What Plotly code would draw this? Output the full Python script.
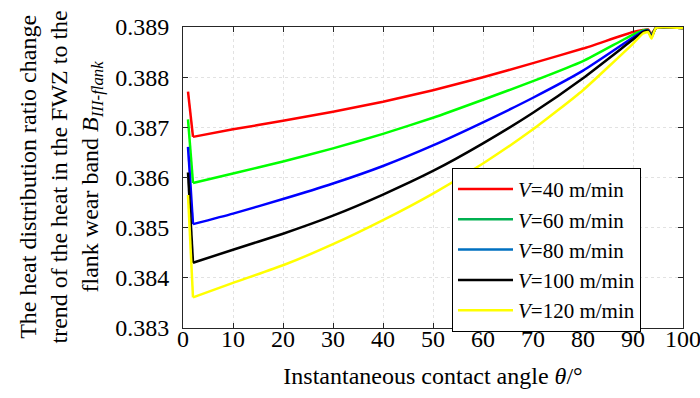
import plotly.graph_objects as go

theta = [1, 2, 10, 20, 30, 40, 50, 60, 70, 80, 90, 92, 93, 93.7, 94.6, 100]
v40 = [0.38771, 0.38681, 0.38696, 0.38713, 0.38731, 0.38751, 0.38774, 0.38800, 0.38828, 0.38857, 0.38890, 0.38894, 0.38895, 0.38886, 0.38898, 0.38898]
v60 = [0.38716, 0.38589, 0.38608, 0.38632, 0.38658, 0.38687, 0.38719, 0.38755, 0.38792, 0.38832, 0.38885, 0.38893, 0.38894, 0.38884, 0.38898, 0.38898]
v80 = [0.38661, 0.38507, 0.38528, 0.38557, 0.38588, 0.38623, 0.38664, 0.38710, 0.38759, 0.38813, 0.38879, 0.38891, 0.38893, 0.38882, 0.38898, 0.38898]
v100 = [0.38610, 0.38430, 0.38456, 0.38488, 0.38524, 0.38566, 0.38613, 0.38668, 0.38729, 0.38798, 0.38875, 0.38890, 0.38892, 0.38880, 0.38898, 0.38898]
v120 = [0.38565, 0.38361, 0.38390, 0.38425, 0.38467, 0.38515, 0.38568, 0.38628, 0.38696, 0.38774, 0.38867, 0.38887, 0.38890, 0.38877, 0.38898, 0.38898]

series = [v40, v60, v80, v100, v120]
names = ["<i>V</i>=40 m/min", "<i>V</i>=60 m/min", "<i>V</i>=80 m/min",
         "<i>V</i>=100 m/min", "<i>V</i>=120 m/min"]
line_colors = ["#ff0000", "#00ff00", "#0000ff", "#000000", "#ffff00"]
legend_colors = ["#ff0000", "#00b050", "#0070c0", "#000000", "#ffff00"]

x_ticks = list(range(0, 101, 10))
y_ticks = [0.383, 0.384, 0.385, 0.386, 0.387, 0.388, 0.389]
y_tick_text = ["0.383", "0.384", "0.385", "0.386", "0.387", "0.388", "0.389"]

FONT = "Liberation Serif"

fig = go.Figure()
for vals, c in zip(series, line_colors):
    # initial steep drop drawn straight, the rest smoothed
    fig.add_trace(go.Scatter(x=theta[:2], y=vals[:2], mode="lines",
                             line=dict(color=c, width=2.5), showlegend=False,
                             hoverinfo="skip"))
    fig.add_trace(go.Scatter(x=theta[1:], y=vals[1:], mode="lines",
                             line=dict(color=c, width=2.5, shape="spline", smoothing=0.5),
                             showlegend=False))
for n, c in zip(names, legend_colors):
    fig.add_trace(go.Scatter(x=[None], y=[None], mode="lines", name=n,
                             line=dict(color=c, width=2.5)))

axis_common = dict(
    showline=True, linecolor="#262626", linewidth=1, mirror="ticks",
    ticks="inside", ticklen=5, tickcolor="#262626",
    showgrid=True, gridcolor="#e2e2e2", griddash="dot", gridwidth=1,
    zeroline=False, automargin=False, ticklabeloverflow="allow",
)

fig.update_layout(
    width=700, height=398,
    margin=dict(l=183, r=17, t=27, b=70),
    paper_bgcolor="white", plot_bgcolor="white",
    font=dict(family=FONT, size=24, color="#000"),
    xaxis=dict(range=[0, 100], tickvals=x_ticks, ticklabelstandoff=-11,
               tickfont=dict(family=FONT, size=24, color="#000"),
               title=dict(text="Instantaneous contact angle <i>θ</i>/°",
                          font=dict(family=FONT, size=24, color="#000"),
                          standoff=16),
               **axis_common),
    yaxis=dict(range=[0.383, 0.389], tickvals=y_ticks, ticktext=y_tick_text,
               ticklabelstandoff=8,
               tickfont=dict(family=FONT, size=24, color="#000"),
               **axis_common),
    legend=dict(x=0.538, y=0.532, xanchor="left", yanchor="top",
                bordercolor="#000", borderwidth=1, bgcolor="white",
                font=dict(family=FONT, size=21, color="#000"),
                tracegroupgap=0, itemwidth=55,
                entrywidth=180, entrywidthmode="pixels"),
)

fig.add_annotation(
    text="The heat distribution ratio change<br>trend of the heat in the FWZ to the<br>flank wear band <i>B</i><sub><i>III-flank</i></sub>",
    xref="paper", yref="paper", x=-0.246, y=0.5, xanchor="center", yanchor="middle",
    textangle=-90, showarrow=False, font=dict(family=FONT, size=24, color="#000"),
)

fig.write_html("out.html", config={"displayModeBar": False},
               post_script="document.body.style.margin='0';document.body.style.overflow='hidden';")
